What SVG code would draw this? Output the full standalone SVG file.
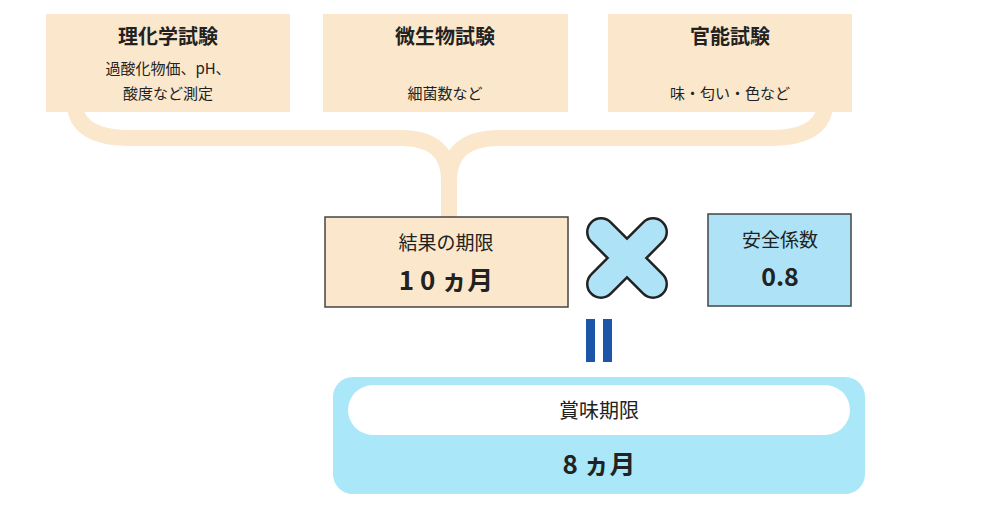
<svg xmlns="http://www.w3.org/2000/svg" width="1000" height="506" viewBox="0 0 1000 506">
<style>
text{font-family:"Noto Sans CJK JP","Noto Sans",sans-serif;text-anchor:middle;fill:#222}
.t{font-size:20px;font-weight:bold}
.s{font-size:15px}
.top{fill:#fbe7cc}
</style>
<rect width="1000" height="506" fill="#fff"/>
<g id="connectors" fill="none" stroke="#fbe7cc" stroke-width="16">
<path d="M75 108 Q80 138 130 138 L400 138 Q449 138 449 180 L449 218"/>
<path d="M825 108 Q820 138 770 138 L500 138 Q449 138 449 180"/>
</g>
<g id="n1"><rect class="top" x="46" y="14" width="244" height="98"/><text class="t" x="168" y="44">理化学試験</text><text class="s" x="168" y="74">過酸化物価、pH、</text><text class="s" x="168" y="99">酸度など測定</text></g>
<g id="n2"><rect class="top" x="323" y="14" width="245" height="98"/><text class="t" x="445" y="44">微生物試験</text><text class="s" x="445" y="99">細菌数など</text></g>
<g id="n3"><rect class="top" x="608" y="14" width="244" height="98"/><text class="t" x="730" y="44">官能試験</text><text class="s" x="730" y="99">味・匂い・色など</text></g>
<g id="result"><rect x="325" y="217" width="243" height="90" fill="#fbe7cc" stroke="#444" stroke-width="1.5"/><text x="446" y="250" style="font-size:19px">結果の期限</text><text x="446" y="290" style="font-size:26px;font-weight:bold">1 0 ヵ月</text></g>
<g id="times" stroke-linecap="round"><path d="M601 232 L653 284 M653 232 L601 284" stroke="#222" stroke-width="30"/><path d="M601 232 L653 284 M653 232 L601 284" stroke="#aee3f7" stroke-width="25"/></g>
<g id="safety"><rect x="708" y="214" width="143" height="92" fill="#aee3f7" stroke="#444" stroke-width="1.5"/><text x="780" y="247" style="font-size:19px">安全係数</text><text x="780" y="286" style="font-size:25px;font-weight:bold">0.8</text></g>
<g id="equals" fill="#1d55a8"><rect x="586" y="319" width="9" height="43"/><rect x="603" y="319" width="9" height="43"/></g>
<g id="shelf"><rect x="333" y="377" width="532" height="117" rx="20" fill="#a9e7f9"/><rect x="348" y="385" width="502" height="50" rx="25" fill="#fff"/><text x="599" y="418" style="font-size:20px">賞味期限</text><text x="599" y="474" style="font-size:26px;font-weight:bold">8 ヵ月</text></g>
</svg>
